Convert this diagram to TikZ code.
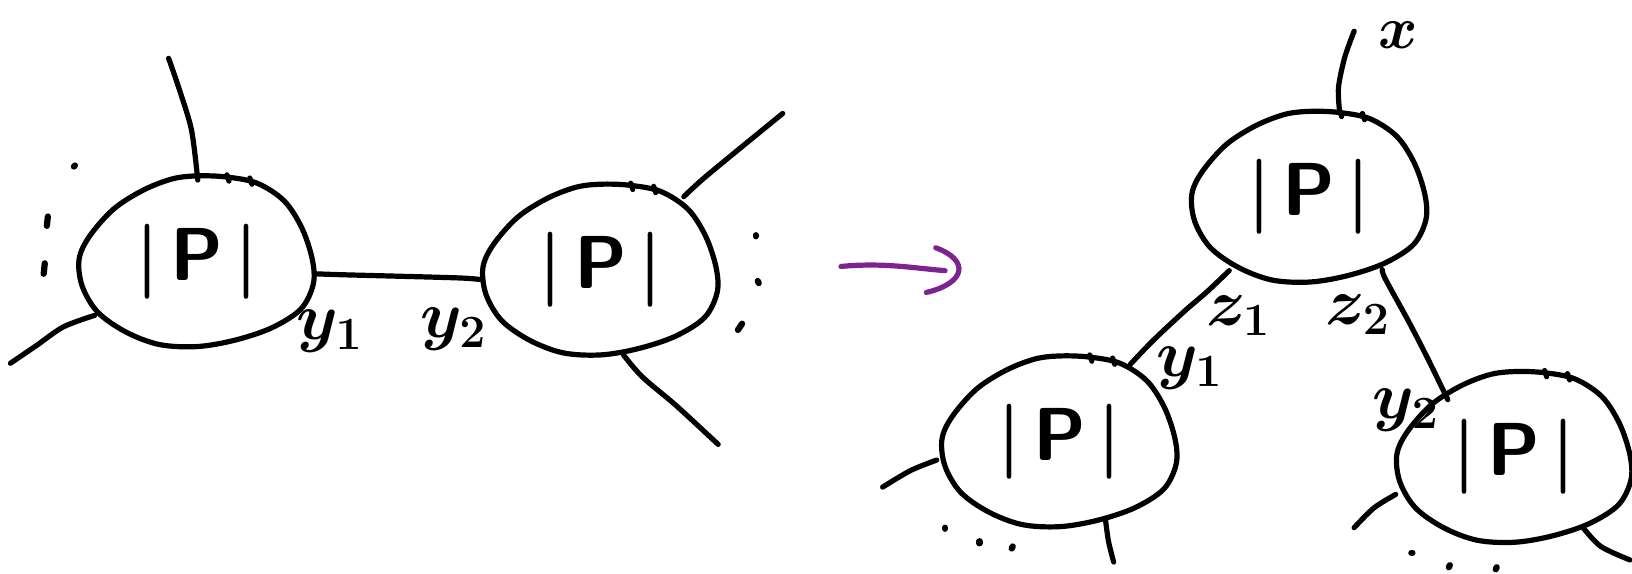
\documentclass[tikz,border=0pt]{standalone}
\definecolor{arrowpurple}{RGB}{125,35,145}
\begin{document}
\begin{tikzpicture}[x=1pt,y=-1pt,
 ink/.style={line width=5pt, line cap=round, line join=round, draw=black},
 dotink/.style={line width=6pt, line cap=round, draw=black},
 pp/.style={font=\sffamily\bfseries\Huge, scale=2.9, inner sep=0pt},
 var/.style={font=\LARGE\boldmath, scale=3.7, inner sep=0pt},
 blobshape/.pic={
  \draw[ink] plot[smooth cycle, tension=0.55] coordinates {(0,-82) (28,-81) (58,-75) (84,-58) (101,-32) (111,-2) (112,22) (100,46) (72,64) (36,76) (0,82) (-36,80) (-68,68) (-95,49) (-110,24) (-113,-2) (-103,-24) (-80,-50) (-52,-68) (-24,-79)};
  \draw[ink] (29,-83) -- (31,-77);
  \draw[ink] (51,-80) -- (53,-74);
 }]
\useasboundingbox (0,0) rectangle (1568,551);

% blobs with |P|
\node[pp] (A) at (189,251) {|\hspace{0.15em}P\hspace{0.15em}|};
\node[pp] (B) at (577,259) {|\hspace{0.15em}P\hspace{0.15em}|};
\node[pp] (C) at (1258,189) {|\hspace{0.15em}P\hspace{0.15em}|};
\node[pp] (D) at (1018,424) {|\hspace{0.15em}P\hspace{0.15em}|};
\node[pp] (E) at (1455,439) {|\hspace{0.15em}P\hspace{0.15em}|};
\pic at (A) {blobshape};
\pic at (B) {blobshape};
\pic at (C) {blobshape};
\pic at (D) {blobshape};
\pic at (E) {blobshape};

% attachment points
\coordinate (A-t) at (190,173);  \coordinate (A-te) at (162,56);
\coordinate (A-bl) at (91,303);  \coordinate (A-ble) at (10,349);
\coordinate (A-r) at (302,263);
\coordinate (B-l) at (464,269);
\coordinate (B-tr) at (657,189); \coordinate (B-tre) at (752,109);
\coordinate (B-b) at (599,341);  \coordinate (B-be) at (690,427);
\coordinate (C-t) at (1287,107); \coordinate (C-te) at (1301,30);
\coordinate (C-bl) at (1181,260);
\coordinate (C-br) at (1328,259);
\coordinate (D-tr) at (1086,350);
\coordinate (D-l) at (900,442);  \coordinate (D-le) at (848,468);
\coordinate (D-b) at (1062,498); \coordinate (D-be) at (1070,540);
\coordinate (E-tl) at (1391,384);
\coordinate (E-l) at (1341,475); \coordinate (E-le) at (1301,507);
\coordinate (E-br) at (1521,507); \coordinate (E-bre) at (1566,538);

% connectors
\draw[ink] plot[smooth] coordinates {(A-t) (184,125) (172,85) (A-te)};
\draw[ink] plot[smooth] coordinates {(A-bl) (61,314) (35,332) (A-ble)};
\draw[ink] plot[smooth] coordinates {(A-r) (330,264) (440,267) (B-l)};
\draw[ink] plot[smooth] coordinates {(B-tr) (680,168) (B-tre)};
\draw[ink] plot[smooth] coordinates {(B-b) (617,362) (650,390) (B-be)};
\draw[ink] plot[smooth] coordinates {(C-t) (1286,84) (1292,55) (C-te)};
\draw[ink] plot[smooth] coordinates {(C-bl) (1160,280) (1138,299) (1108,327) (D-tr)};
\draw[ink] plot[smooth] coordinates {(C-br) (1331,268) (1354,310) (1372,345) (E-tl)};
\draw[ink] plot[smooth] coordinates {(D-l) (875,452) (D-le)};
\draw[ink] plot[smooth] coordinates {(D-b) (1065,520) (D-be)};
\draw[ink] plot[smooth] coordinates {(E-l) (1320,488) (E-le)};
\draw[ink] plot[smooth] coordinates {(E-br) (1538,525) (E-bre)};

% labels
\node[var] (ly1) at (317,318) {$y_1$};
\node[var] (ly2) at (436,316) {$y_2$};
\node[var, scale=0.9] (rx) at (1343,34) {$x$};
\node[var] (rz1) at (1190,303) {$z_1$};
\node[var] (rz2) at (1305,302) {$z_2$};
\node[var] (ry1) at (1143,354) {$y_1$};
\node[var] (ry2) at (1351,394) {$y_2$};

% dots
\draw[dotink] (71,160) -- (72,159);
\draw[dotink] (46,208) -- (45,217);
\draw[dotink] (43,253) -- (42,263);
\draw[dotink] (726,226) -- (726,227);
\draw[dotink] (728,270) -- (729,272);
\draw[dotink] (713,311) -- (709,317);
\draw[dotink] (908,507) -- (908,508);
\draw[dotink] (941,520) -- (941,522);
\draw[dotink] (973,525) -- (972,527);
\draw[dotink] (1356,531) -- (1357,531);
\draw[dotink] (1393,543) -- (1392,545);
\draw[dotink] (1438,545) -- (1437,547);

% purple arrow
\coordinate (arS) at (808,256);
\coordinate (arE) at (908,260);
\coordinate (arH1) at (899,238);
\coordinate (arH2) at (890,281);
\draw[line width=5pt, line cap=round, arrowpurple] (arS) .. controls (850,252) and (880,258) .. (arE);
\draw[line width=5pt, line cap=round, arrowpurple] (arH1) .. controls (932,250) and (928,272) .. (arH2);
\end{tikzpicture}
\end{document}
